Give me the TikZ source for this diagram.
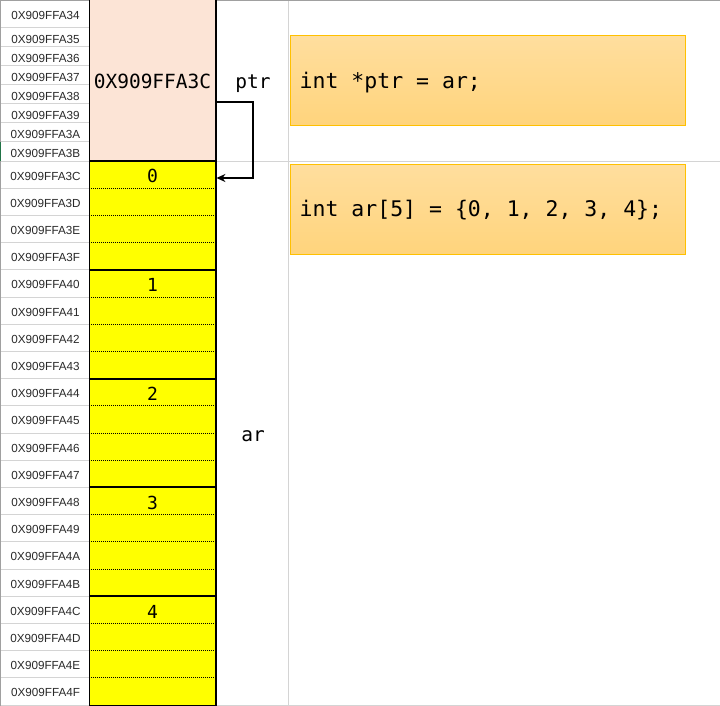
\documentclass[tikz,border=0pt]{standalone}
\usepackage{fontspec}
\setmainfont{Liberation Sans}
\newfontfamily\mono{DejaVu Sans Mono}
\usetikzlibrary{calc,arrows.meta}
\definecolor{gridgray}{HTML}{D4D4D4}
\definecolor{framegray}{HTML}{A0A0A0}
\definecolor{pinkfill}{HTML}{FCE4D6}
\definecolor{cellyellow}{HTML}{FFFF00}
\definecolor{codetop}{HTML}{FFDE9E}
\definecolor{codebot}{HTML}{FFD47C}
\definecolor{codeedge}{HTML}{FFC000}
\definecolor{addrtext}{HTML}{2A2A2A}
\definecolor{selgreen}{HTML}{217346}
\tikzset{
  addr/.style={font=\fontsize{11.7}{12}\selectfont, text=addrtext, inner sep=0pt, anchor=base},
  gridline/.style={draw=gridgray, line width=1pt},
  thickline/.style={draw=black, line width=2pt},
  dotline/.style={draw=black, line width=0.9pt, dash pattern=on 1pt off 1pt},
  monolabel/.style={font=\mono\fontsize{19.5}{20}\selectfont, inner sep=0pt, anchor=base},
  digit/.style={font=\mono\fontsize{18}{19}\selectfont, inner sep=0pt, anchor=base},
  codebox/.style={draw=codeedge, line width=1pt, top color=codetop, bottom color=codebot,
    minimum width=395pt, minimum height=90pt, anchor=north west, inner sep=0pt},
  codetext/.style={font=\mono\fontsize{21.5}{22}\selectfont, inner sep=0pt, anchor=base west},
  arr/.style={draw=black, line width=2pt, -{Stealth[length=9pt,width=8pt]}},
}
\begin{document}
\begin{tikzpicture}[x=1pt,y=-1pt]
\useasboundingbox (0,0) rectangle (720,706);
\fill[white] (0,0) rectangle (720,706);
% grid lines of the sheet
\draw[gridline] (216,161) -- (720,161);
\draw[gridline] (288.5,0) -- (288.5,706);
\foreach \yy in {28,47,66,85,104,123,142,161} \draw[gridline] (0,\yy) -- (89,\yy);
\foreach \k in {1,...,19} \draw[gridline] (0,{161+27.2*\k}) -- (89,{161+27.2*\k});
\draw[gridline] (0,705.5) -- (720,705.5);
\draw[draw=framegray, line width=1.2pt] (0,0.6) -- (720,0.6);
\draw[draw=framegray, line width=1.2pt] (0.6,0) -- (0.6,706);
\draw[draw=selgreen, line width=1.2pt] (0.6,142) -- (0.6,161);
% pointer block
\node[draw=none, fill=pinkfill, minimum width=127pt, minimum height=161pt, inner sep=0pt, anchor=north west] (ptrbox) at (89,0) {};
\node[monolabel] (ptrval) at (152.5,88.5) {0X909FFA3C};
% array cells
\fill[cellyellow] (89,161) rectangle (216,705);
\foreach \k in {1,2,3,5,6,7,9,10,11,13,14,15,17,18,19}
  \draw[dotline] (89,{161+27.2*\k}) -- (216,{161+27.2*\k});
\foreach \k in {0,4,8,12,16}
  \draw[thickline] (89,{161+27.2*\k}) -- (216,{161+27.2*\k});
\node[minimum width=127pt, minimum height=27.2pt, inner sep=0pt, anchor=north west] (cell0) at (89,163) {};
\node[digit] (v0) at (152.5,182.7) {0};
\node[digit] (v1) at (152.5,291.6) {1};
\node[digit] (v2) at (152.5,400.5) {2};
\node[digit] (v3) at (152.5,509.4) {3};
\node[digit] (v4) at (152.5,618.3) {4};
% column borders
\draw[draw=black, line width=1.2pt] (89.5,0) -- (89.5,705.5);
\draw[draw=black, line width=1.2pt] (216,0) -- (216,705.5);
\draw[draw=black, line width=1.2pt] (89,705.5) -- (216,705.5);
% addresses
\node[addr] (a34) at (45.5,20) {0X909FFA34};
\node[addr] (a35) at (45.5,43.3) {0X909FFA35};
\node[addr] (a36) at (45.5,62.3) {0X909FFA36};
\node[addr] (a37) at (45.5,81.3) {0X909FFA37};
\node[addr] (a38) at (45.5,100.3) {0X909FFA38};
\node[addr] (a39) at (45.5,119.3) {0X909FFA39};
\node[addr] (a3A) at (45.5,138.3) {0X909FFA3A};
\node[addr] (a3B) at (45.5,157.3) {0X909FFA3B};
\foreach \lab [count=\i from 0] in {3C,3D,3E,3F,40,41,42,43,44,45,46,47,48,49,4A,4B,4C,4D,4E,4F}
  \node[addr] (a\lab) at (45.5,{161+27.2*\i+19}) {0X909FFA\lab};
% labels
\node[monolabel] (ptrname) at (253,88.5) {ptr};
\node[monolabel] (arname) at (253,441.5) {ar};
% pointer arrow
\coordinate (bend) at (253,102);
\coordinate (bend2) at (253,178);
\draw[arr] (ptrbox.east |- bend) -- (bend) -- (bend2) -- (cell0.east |- bend2);
% code boxes
\node[codebox] (code1) at (289.5,35.5) {};
\node[codetext] (t1) at (299.5,88.3) {int *ptr = ar;};
\node[codebox] (code2) at (289.5,163.5) {};
\node[codetext] (t2) at (299.5,216) {int ar[5] = \{0, 1, 2, 3, 4\};};
\end{tikzpicture}
\end{document}
